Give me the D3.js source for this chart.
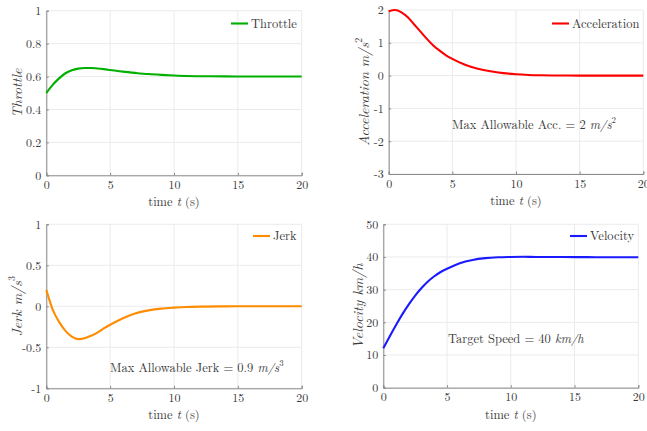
<!DOCTYPE html>
<html><head><meta charset="utf-8">
<script src="https://cdn.jsdelivr.net/npm/d3@7"></script>
<style>
body{margin:0;background:#fff;}
</style></head>
<body><svg id="c" width="647" height="431"></svg>
<script>
const time = [0,0.5,1,1.5,2,2.5,3,3.5,4,4.5,5,6,7,8,9,10,11,12,14,16,18,20];
const throttle = [0.500,0.549,0.589,0.620,0.638,0.648,0.652,0.652,0.649,0.645,0.640,0.630,0.622,0.615,0.610,0.606,0.603,0.602,0.601,0.600,0.600,0.600];
const acceleration = [1.96,2.00,1.93,1.78,1.56,1.34,1.12,0.92,0.76,0.62,0.51,0.33,0.21,0.13,0.075,0.04,0.02,0.01,0.002,0.0,0.0,0.0];
const jerk = [0.20,-0.04,-0.19,-0.30,-0.37,-0.40,-0.39,-0.36,-0.32,-0.27,-0.225,-0.145,-0.085,-0.05,-0.028,-0.016,-0.008,-0.004,-0.001,0,0,0];
const velocity = [12.1,15.7,19.2,22.5,25.5,28.2,30.5,32.5,34.1,35.4,36.4,38.1,39.1,39.65,39.9,40.0,40.05,40.0,40.0,39.95,39.9,39.9];
const xTicks = [0,5,10,15,20];
const throttleTicks = [0,0.2,0.4,0.6,0.8,1];
const accTicks = [-3,-2,-1,0,1,2];
const jerkTicks = [-1,-0.5,0,0.5,1];
const velTicks = [0,10,20,30,40,50];

const FONT = "'Latin Modern Roman','CMU Serif','Liberation Serif','Times New Roman','DejaVu Serif','Noto Serif',serif";
const svg = d3.select("#c").style("font-family",FONT);

const panels = [
  {x0:46.3,x1:301.7,y0:10.7,y1:175.3,domain:[0,1],ticks:throttleTicks,vals:throttle,color:"#00b000",name:"Throttle",
   legX:231,legY:23.5,ylab:[{t:"Throttle",i:true}],ylabX:17,annot:null},
  {x0:388.7,x1:643.3,y0:10,y1:174,domain:[-3,2],ticks:accTicks,vals:acceleration,color:"#ff0000",name:"Acceleration",
   legX:552,legY:23.5,ylab:[{t:"Acceleration  m/s",i:true},{t:"2",sup:true}],ylabX:364,
   annot:{x:452,y:129,parts:[{t:"Max Allowable Acc. = 2 "},{t:"m/s",i:true},{t:"2",sup:true}]}},
  {x0:46.3,x1:301.7,y0:224.3,y1:388.3,domain:[-1,1],ticks:jerkTicks,vals:jerk,color:"#ff8c00",name:"Jerk",
   legX:253,legY:236,ylab:[{t:"Jerk  m/s",i:true},{t:"3",sup:true}],ylabX:17,
   annot:{x:110,y:372,parts:[{t:"Max Allowable Jerk = 0.9 "},{t:"m/s",i:true},{t:"3",sup:true}]}},
  {x0:383.3,x1:638.3,y0:224.3,y1:387.7,domain:[0,50],ticks:velTicks,vals:velocity,color:"#1a1aff",name:"Velocity",
   legX:570,legY:236,ylab:[{t:"Velocity  km/h",i:true}],ylabX:358,
   annot:{x:448,y:343,parts:[{t:"Target Speed = 40 "},{t:"km/h",i:true}]}}
];

function addParts(sel, parts, size){
  parts.forEach(p=>{
    const ts = sel.append("tspan").text(p.t);
    if(p.i) ts.style("font-style","italic");
    if(p.sup) ts.attr("baseline-shift","super").style("font-size",(size*0.7)+"px");
  });
}
function styleText(sel,size){
  sel.style("font-family",FONT).style("font-size",size+"px").style("fill","#3a3a3a");
}

panels.forEach(p=>{
  const x = d3.scaleLinear().domain([0,20]).range([p.x0,p.x1]);
  const y = d3.scaleLinear().domain(p.domain).range([p.y1,p.y0]);
  const g = svg.append("g");
  g.selectAll(".gx").data(xTicks).enter().append("line")
    .attr("x1",d=>x(d)).attr("x2",d=>x(d)).attr("y1",p.y0).attr("y2",p.y1)
    .attr("stroke","#ebebeb").attr("stroke-width",1);
  g.selectAll(".gy").data(p.ticks).enter().append("line")
    .attr("x1",p.x0).attr("x2",p.x1).attr("y1",d=>y(d)).attr("y2",d=>y(d))
    .attr("stroke","#ebebeb").attr("stroke-width",1);
  const xa = g.append("g").attr("transform",`translate(0,${p.y1})`)
    .call(d3.axisBottom(x).tickValues(xTicks).tickSize(-2.5).tickPadding(5).tickFormat(d3.format("d")));
  const ya = g.append("g").attr("transform",`translate(${p.x0},0)`)
    .call(d3.axisLeft(y).tickValues(p.ticks).tickSize(-2.5).tickPadding(5).tickFormat(d=>String(d)));
  [xa,ya].forEach(a=>{
    a.attr("font-family",null).attr("font-size",null);
    a.select(".domain").attr("stroke","#8a8a8a");
    a.selectAll(".tick line").attr("stroke","#8a8a8a");
    styleText(a.selectAll("text"),12);
  });
  const xl = g.append("text").attr("x",(p.x0+p.x1)/2).attr("y",p.y1+31).attr("text-anchor","middle");
  styleText(xl,12.5);
  addParts(xl,[{t:"time "},{t:"t",i:true},{t:" (s)"}],12.5);
  const yl = g.append("text").attr("transform",`translate(${p.ylabX},${(p.y0+p.y1)/2}) rotate(-90)`)
    .attr("text-anchor","middle").attr("dy","0.35em");
  styleText(yl,14);
  addParts(yl,p.ylab,14);
  const line = d3.line().x((d,i)=>x(time[i])).y(d=>y(d)).curve(d3.curveMonotoneX);
  g.append("path").datum(p.vals).attr("d",line).attr("fill","none")
    .attr("stroke",p.color).attr("stroke-width",2.1);
  g.append("line").attr("x1",p.legX).attr("x2",p.legX+17).attr("y1",p.legY).attr("y2",p.legY)
    .attr("stroke",p.color).attr("stroke-width",2.1);
  const lt = g.append("text").attr("x",p.legX+20).attr("y",p.legY).attr("dy","0.35em").text(p.name);
  styleText(lt,12.5);
  if(p.annot){
    const t = g.append("text").attr("x",p.annot.x).attr("y",p.annot.y);
    styleText(t,12.5);
    addParts(t,p.annot.parts,12.5);
  }
});
</script></body></html>
